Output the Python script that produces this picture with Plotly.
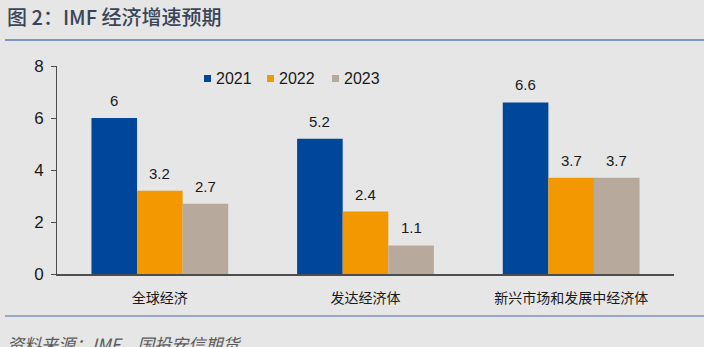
import plotly.graph_objects as go

categories = ["全球经济", "发达经济体", "新兴市场和发展中经济体"]
series_names = ["2021", "2022", "2023"]
v2021 = [6, 5.2, 6.6]
v2022 = [3.2, 2.4, 3.7]
v2023 = [2.7, 1.1, 3.7]
colors = ["#00469b", "#f39800", "#b7aa9d"]
yticks = [0, 2, 4, 6, 8]

bg = "#e6e6e6"
W, H = 704, 347
bargap = 0.335
bw = (1 - bargap) / 3

fig = go.Figure()
series = [v2021, v2022, v2023]
for i, (name, vals, c) in enumerate(zip(series_names, series, colors)):
    fig.add_trace(go.Bar(
        x=list(range(len(categories))), y=vals, name=name, marker_color=c, marker_line_width=0,
        showlegend=False,
    ))
    for j, v in enumerate(vals):
        fig.add_annotation(x=j + (i - 1) * bw, y=v, xref="x", yref="y", text=f"{v:g}",
                           showarrow=False, yanchor="bottom", yshift=7,
                           font=dict(size=15, color="#1a1a1a", family="Liberation Sans, Arial"))

# manual legend
leg_x = [204, 267, 332]
for i, (name, c) in enumerate(zip(series_names, colors)):
    x0 = leg_x[i]
    fig.add_shape(type="rect", xref="paper", yref="paper",
                  x0=x0 / W, x1=(x0 + 7) / W, y0=1 - 82 / H, y1=1 - 75 / H,
                  fillcolor=c, line_width=0)
    fig.add_annotation(x=(x0 + 10) / W, y=1 - 78.5 / H, xref="paper", yref="paper",
                       xanchor="left", yanchor="middle", text=name, showarrow=False,
                       font=dict(size=16, color="#1a1a1a", family="Liberation Sans, Arial"))

fig.update_layout(
    width=W, height=H, paper_bgcolor=bg, plot_bgcolor=bg,
    margin=dict(l=0, r=0, t=0, b=0),
    barmode="group", bargap=bargap, bargroupgap=0,
    font=dict(family="Liberation Sans, Arial, Noto Sans CJK SC", color="#1a1a1a"),
    xaxis=dict(domain=[57 / W, 674 / W], range=[-0.5, 2.5], showline=True, linecolor="#4d4d4d",
               linewidth=2, ticks="", tickvals=list(range(len(categories))), ticktext=categories,
               tickfont=dict(size=14, family="Noto Sans CJK SC"), automargin=False,
               ticklabelstandoff=10, showgrid=False, zeroline=False),
    yaxis=dict(domain=[1 - 274 / H, 1 - 66 / H], range=[0, 8], tickvals=yticks,
               showline=True, linecolor="#4d4d4d", linewidth=1, ticks="outside",
               ticklen=5, tickcolor="#4d4d4d", showgrid=False, zeroline=False,
               tickfont=dict(size=17), automargin=False, ticklabelstandoff=4),
    showlegend=False,
)

fig.add_annotation(x=5 / W, y=1 - 17 / H, xref="paper", yref="paper", xanchor="left", yanchor="middle",
                   text="图 2：IMF 经济增速预期", showarrow=False,
                   font=dict(size=20, color="#3a4557", family="Noto Sans CJK SC", weight=500))
fig.add_annotation(x=5 / W, y=1 - 343 / H, xref="paper", yref="paper", xanchor="left", yanchor="middle",
                   text="<i>资料来源：IMF、国投安信期货</i>", showarrow=False,
                   font=dict(size=17, color="#5a5a5a", family="Noto Sans CJK SC"))
fig.add_shape(type="line", xref="paper", yref="paper", x0=5 / W, x1=1, y0=1 - 40 / H, y1=1 - 40 / H,
              line=dict(color="#7f95c2", width=2))
fig.add_shape(type="line", xref="paper", yref="paper", x0=5 / W, x1=1, y0=1 - 316 / H, y1=1 - 316 / H,
              line=dict(color="#4a68a6", width=1))

fig.write_html("out.html")
